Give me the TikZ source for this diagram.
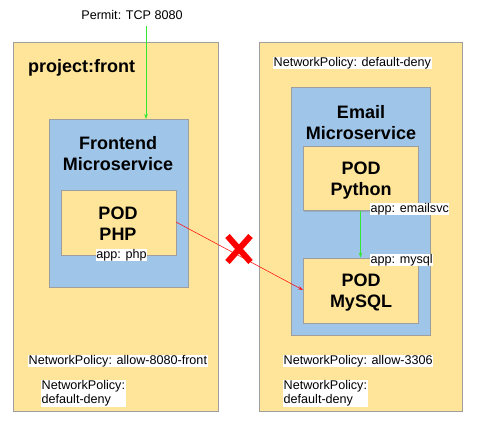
\documentclass[tikz,border=0pt]{standalone}
\usepackage{fontspec}
\setmainfont{Liberation Sans}
\usetikzlibrary{arrows.meta,shadows}
\definecolor{ybox}{HTML}{FFE599}
\definecolor{bbox}{HTML}{9FC5E8}
\definecolor{edge}{HTML}{9E9E9E}
\definecolor{garrow}{HTML}{33E833}
\definecolor{rline}{HTML}{FF1A1A}
\begin{document}
\begin{tikzpicture}[x=1pt,y=-1pt,
  outerbox/.style={draw=edge,fill=ybox,line width=0.8pt,drop shadow={shadow xshift=1pt,shadow yshift=-1pt,opacity=0.35}},
  svcbox/.style={draw=edge,fill=bbox,line width=0.8pt,drop shadow={shadow xshift=1pt,shadow yshift=-1pt,opacity=0.35}},
  podbox/.style={draw=edge,fill=ybox,line width=0.8pt,drop shadow={shadow xshift=1pt,shadow yshift=-1pt,opacity=0.35}},
  title/.style={font=\fontsize{18}{21}\selectfont\bfseries,align=center,inner sep=0pt},
  lbl/.style={font=\fontsize{12.6}{14}\selectfont,fill=white,inner sep=0.5pt,align=left},
  plain/.style={font=\fontsize{12.6}{14}\selectfont,inner sep=0.5pt},
  arr/.style={-{Stealth[length=5pt,width=3.5pt]},line width=0.6pt},
  crossline/.style={red,line width=6pt}
]
\useasboundingbox (0,0) rectangle (478,426);
% outer boxes
\path[outerbox] (13,42) rectangle (218,411);
\path[outerbox] (259,42) rectangle (462,411);
% service boxes
\path[svcbox] (49,119) rectangle (188,287);
\path[svcbox] (291,87) rectangle (430,335);
% pods
\node[podbox,minimum width=115pt,minimum height=65pt,inner sep=0pt] (php) at (118.5,222.5) {};
\node[podbox,minimum width=115pt,minimum height=64pt,inner sep=0pt] (py) at (360.5,178.5) {};
\node[podbox,minimum width=115pt,minimum height=65pt,inner sep=0pt] (sql) at (360.5,290.5) {};
% titles
\node[title,anchor=west] (proj) at (28,68) {project:front};
\node[title] (fe) at (118,154) {Frontend\\Microservice};
\node[title] (em) at (361,123) {Email\\Microservice};
\node[title] (phpt) at (118,224) {POD\\PHP};
\node[title] (pyt) at (361,181) {POD\\Python};
\node[title] (sqlt) at (361,293) {POD\\MySQL};
% labels
\node[plain] (permit) at (132,15) {Permit: TCP 8080};
\node[lbl] (appphp) at (121.5,255) {app: php};
\node[lbl,anchor=west] (appemail) at (370,209) {app: emailsvc};
\node[lbl,anchor=west] (appmysql) at (370,260) {app: mysql};
\node[lbl,anchor=west] (nprd) at (273,63) {NetworkPolicy: default-deny};
\node[lbl,anchor=west] (npl1) at (28,361) {NetworkPolicy: allow-8080-front};
\node[lbl,anchor=north west] (npl2) at (41,380) {NetworkPolicy:\\default-deny};
\node[lbl,anchor=west] (npr1) at (283,361) {NetworkPolicy: allow-3306};
\node[lbl,anchor=north west] (npr2) at (283,380) {NetworkPolicy:\\default-deny};
% connectors
\coordinate (pin) at (146,26);
\coordinate (pout) at (146,119);
\draw[arr,garrow] (pin) -- (pout);
\draw[arr,garrow] (py.south) -- (sql.north);
\coordinate (rs) at (176,222);
\coordinate (re) at (303,290);
\draw[arr,rline] (rs) -- (re);
% red cross
\coordinate (xa) at (227.5,236);
\coordinate (xb) at (250.5,262);
\coordinate (xc) at (250.5,236);
\coordinate (xd) at (227.5,262);
\draw[crossline] (xa) -- (xb);
\draw[crossline] (xc) -- (xd);
\end{tikzpicture}
\end{document}
